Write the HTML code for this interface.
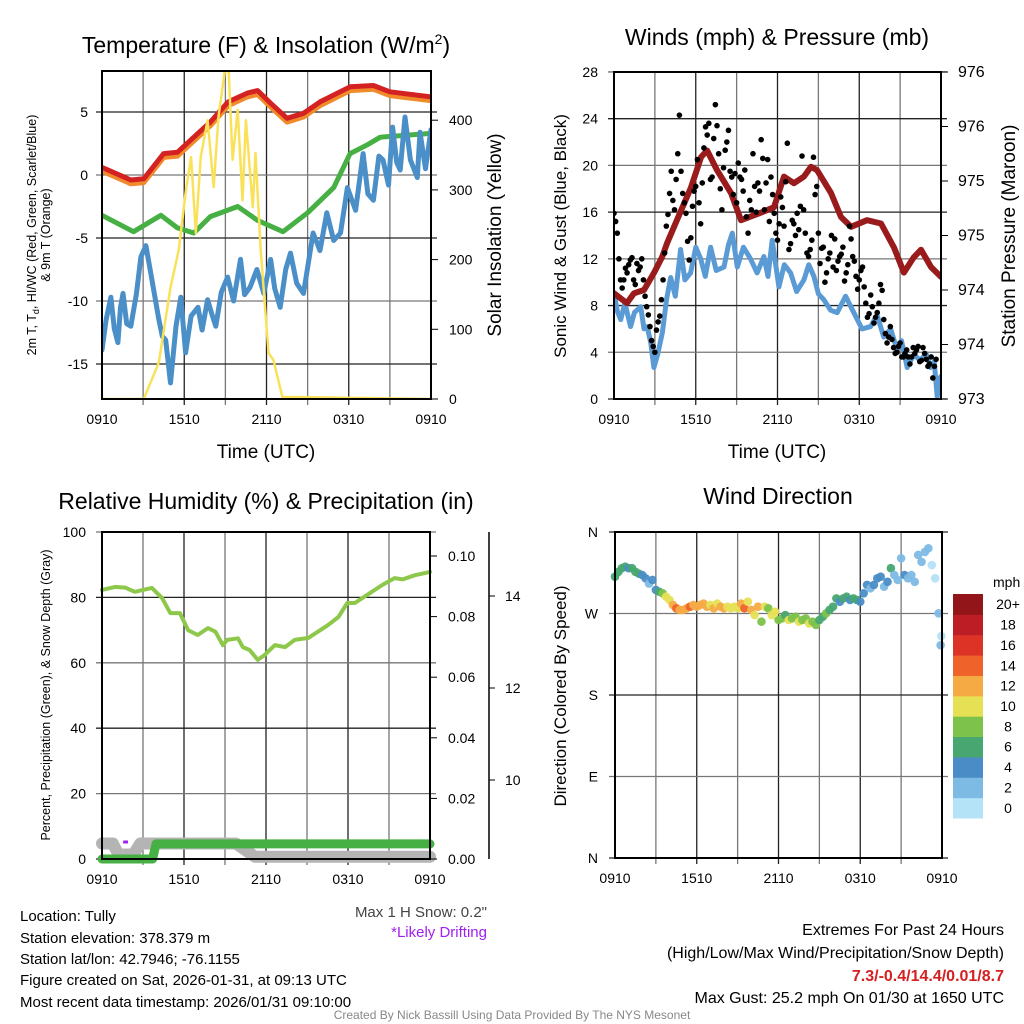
<!DOCTYPE html>
<html><head><meta charset="utf-8"><style>
html,body{margin:0;padding:0;background:#fff;}
svg{display:block;font-family:"Liberation Sans",Arial,sans-serif;}
</style></head><body>
<svg id="chart" xmlns="http://www.w3.org/2000/svg" width="1024" height="1024" viewBox="0 0 1024 1024">
<rect width="1024" height="1024" fill="#fff"/>
<defs>
<clipPath id="c1"><rect x="102" y="71" width="329" height="328"/></clipPath>
<clipPath id="c2"><rect x="614" y="72" width="327" height="327"/></clipPath>
<clipPath id="c3"><rect x="95" y="532" width="345" height="335"/></clipPath>
<clipPath id="c4"><rect x="605" y="525" width="345" height="340"/></clipPath>
</defs>
<g id="grid"></g>
<g id="series"></g>
<g id="axes"></g>

<text x="266" y="53" font-size="23" text-anchor="middle">Temperature (F) &amp; Insolation (W/m<tspan dy="-9" font-size="14">2</tspan><tspan dy="9">)</tspan></text>
<text x="777" y="45" font-size="23" text-anchor="middle">Winds (mph) &amp; Pressure (mb)</text>
<text x="266" y="509" font-size="23" text-anchor="middle">Relative Humidity (%) &amp; Precipitation (in)</text>
<text x="778" y="504" font-size="23" text-anchor="middle">Wind Direction</text>

<text transform="translate(36,235) rotate(-90)" font-size="12.5" text-anchor="middle">2m T, T<tspan font-size="9" dy="3">d</tspan><tspan dy="-3">, HI/WC (Red, Green, Scarlet/Blue)</tspan></text>
<text transform="translate(50,235) rotate(-90)" font-size="12.5" text-anchor="middle">&amp; 9m T (Orange)</text>
<text transform="translate(501,235) rotate(-90)" font-size="19" text-anchor="middle">Solar Insolation (Yellow)</text>
<text x="266" y="458" font-size="19" text-anchor="middle">Time (UTC)</text>
<text transform="translate(566,236) rotate(-90)" font-size="17" text-anchor="middle">Sonic Wind &amp; Gust (Blue, Black)</text>
<text transform="translate(1015,236) rotate(-90)" font-size="19" text-anchor="middle">Station Pressure (Maroon)</text>
<text x="777" y="458" font-size="19" text-anchor="middle">Time (UTC)</text>
<text transform="translate(50,695) rotate(-90)" font-size="12.5" text-anchor="middle">Percent, Precipitation (Green), &amp; Snow Depth (Gray)</text>
<text transform="translate(566,696) rotate(-90)" font-size="17" text-anchor="middle">Direction (Colored By Speed)</text>
<text x="993" y="587" font-size="14" text-anchor="start">mph</text>

<g font-size="15">
<text x="20" y="921">Location: Tully</text>
<text x="20" y="943">Station elevation: 378.379 m</text>
<text x="20" y="964">Station lat/lon: 42.7946; -76.1155</text>
<text x="20" y="985">Figure created on Sat, 2026-01-31, at 09:13 UTC</text>
<text x="20" y="1007">Most recent data timestamp: 2026/01/31 09:10:00</text>
</g>
<text x="487" y="917" font-size="15" fill="#444" text-anchor="end">Max 1 H Snow: 0.2"</text>
<text x="487" y="937" font-size="15" fill="#a020f0" text-anchor="end">*Likely Drifting</text>
<g font-size="16" text-anchor="end">
<text x="1004" y="935">Extremes For Past 24 Hours</text>
<text x="1004" y="958">(High/Low/Max Wind/Precipitation/Snow Depth)</text>
<text x="1004" y="981" fill="#d42020" font-weight="bold">7.3/-0.4/14.4/0.01/8.7</text>
<text x="1004" y="1003">Max Gust: 25.2 mph On 01/30 at 1650 UTC</text>
</g>
<text x="512" y="1019" font-size="12" fill="#888" text-anchor="middle">Created By Nick Bassill Using Data Provided By The NYS Mesonet</text>
</svg>
<script>
// ---- data ----
const timeLabels=["0910","1510","2110","0310","0910"];
const tempTicks=[5,0,-5,-10,-15];
const solarTicks=[0,100,200,300,400];
const windTicks=[0,4,8,12,16,20,24,28];
const presTicks=[973,973.5,974,974.5,975,975.5,976];
const rhTicks=[0,20,40,60,80,100];
const precipTicks=[0,0.02,0.04,0.06,0.08,0.10];
const snowTicks=[10,12,14];
const dirLabels=["N","E","S","W","N"];
const dirTicks=[0,90,180,270,360];

const tRed=[0,2.1,3.05,4.5,5.5,6.5,7.9,9.2,10.6,11.35,12.3,13.5,14.7,15.9,18.1,19.8,21,24];
const tempRed=[0.6,-0.4,-0.3,1.7,1.8,2.8,4.2,5.8,6.5,6.7,5.7,4.5,4.9,5.8,7.0,7.1,6.6,6.2];
const tempOrange=[0.3,-0.7,-0.6,1.4,1.5,2.5,3.9,5.5,6.2,6.4,5.4,4.2,4.6,5.5,6.7,6.8,6.3,5.9];
const tGreen=[0,2.3,4.3,5.5,6.7,7.9,9.9,11.35,13.2,15,16.9,18.1,19.35,20.3,24];
const hiwc=[-3.2,-4.5,-3.2,-4.2,-4.6,-3.3,-2.5,-3.6,-4.5,-3.0,-1.0,1.7,2.4,3.0,3.3];
const tDew=[0,0.3,0.65,0.9,1.16,1.35,1.53,1.8,2.1,2.5,2.84,3.2,3.56,4.15,4.4,4.65,5.0,5.4,5.75,6.1,6.5,7.0,7.3,7.7,8.0,8.3,8.7,9.16,9.6,10.1,10.4,10.8,11.3,11.8,12.3,12.6,13.0,13.4,13.75,14.2,14.7,15.4,15.9,16.4,16.9,17.4,17.9,18.5,19.05,19.4,19.8,20.2,20.5,20.9,21.2,21.5,21.75,22.1,22.5,23,23.2,23.6,24];
const dewpt=[-13.9,-11.5,-9.7,-12.2,-13.3,-10.5,-9.4,-11.8,-12,-9.5,-6.5,-5.6,-7.8,-11.5,-12.8,-13.1,-16.5,-12.0,-9.7,-14.1,-11.2,-10.5,-12.3,-9.9,-11.0,-12,-9.3,-8.1,-10.0,-6.7,-9.5,-8.9,-7.5,-9.4,-6.7,-9.0,-10.5,-7.5,-6.2,-8.6,-9.4,-4.6,-6.0,-3.0,-5.2,-4.6,-1.0,-2.8,1.7,-1.5,-2.0,1.5,1.2,-0.8,3.8,1.0,0.4,4.6,1.2,-0.2,3.4,0.5,3.6];
const tSolar=[0,3.05,4.15,5.0,5.6,6.1,6.5,6.84,7.2,7.7,8.15,8.5,8.95,9.24,9.53,9.9,10.25,10.5,11,11.2,11.56,11.93,12.15,12.5,13.16,24];
const solar=[0,0,53,160,214,296,347,238,347,400,304,405,470,470,343,415,285,400,275,353,218,123,66,56,3,0];

const tPres=[0,0.95,1.47,2.2,2.94,3.52,3.9,4.62,5.65,6.39,6.83,7.56,8.59,9.32,10.8,11.74,12.48,13.2,13.94,14.46,14.9,15.93,16.66,17.4,18.57,19.6,20.55,21.28,22.0,22.53,23.27,24];
const pressure=[973.97,973.88,973.97,974.0,974.16,974.30,974.43,974.64,974.94,975.22,975.28,975.10,974.89,974.64,974.71,974.76,975.04,974.98,975.04,975.13,975.10,974.89,974.67,974.58,974.64,974.61,974.39,974.16,974.30,974.37,974.21,974.12];
const tWind=[0,0.25,0.49,0.8,1.22,1.5,1.96,2.2,2.44,2.7,2.93,3.2,3.55,3.85,4.16,4.5,4.89,5.2,5.62,6.0,6.36,6.7,7.09,7.5,8.07,8.4,8.68,9.05,9.5,10.02,10.5,11.0,11.3,11.61,12.1,12.5,12.96,13.4,13.94,14.3,14.67,15.0,15.4,15.9,16.38,17.0,17.6,18.2,18.83,19.3,19.8,20.3,20.78,21.1,21.52,22.0,22.49,22.9,23.23,23.5,23.72,23.96];
const wind=[9.1,7.5,6.8,8.2,6.2,7.4,7.9,6.0,6.2,4.8,2.7,3.8,5.7,8.5,10.4,8.8,12.8,10.2,10.8,13.0,12,10.5,13,11.0,11.3,13.2,14.2,11.3,13.0,12,10.8,12.2,10.5,13.6,9.6,11.5,10.8,9.2,10.2,11.5,10.5,9.0,8.5,7.6,7.4,8.8,7.4,6.0,6.2,7.2,5.3,6.0,4.2,5.0,2.7,3.8,3.3,3.9,2.7,3.2,0.2,1.9];
const gustA=[15.9,14.2,10.2,10.2,10.8,11.9,10.2,11.6,11.3,10.2,7.9,6.2,4.5,5.9,7.1,10.2,14.8,17.6,17.0,18.8,24.3,17.6,15.9,11.9,16.5,18.2,16.8,18.5,23.3,23.6,19.0,25.2,21.0,16.2,21.3,23.0,19.0,19.3,20.2,18.8,19.6,14.2,16.2,18.2,18.5,22.2,16.2,20.5,19.0,15.9,13.6,17.3,14.8,21.9,13.3,15.0,15.9,16.5,16.2,12.5,12.8,20.7,18.2,11.6,13.0,10.8,12.5,11.3,11.0,12.2,13.0,10.8,14.8,12.2,10.5,10.2,11.3,8.2,7.3,7.9,7.0,8.2,9.3,5.6,5.3,5.1,3.9,4.5,3.6,3.9,3.6,3.6,3.9,4.5,3.3,3.9,2.8,3.6,2.8];
const gustB=[15.2,12.0,9.5,11.2,11.5,12.1,9.8,11.0,12.0,8.8,7.2,5.0,4.0,6.6,8.5,12.5,15.8,19.5,16.2,21.0,19.5,16.8,13.5,13.8,17.8,20.5,15.0,21.5,22.6,18.8,22.3,23.4,18.0,19.8,22.0,19.5,17.5,16.8,19.0,17.8,15.6,17.0,21.0,16.0,17.8,20.6,18.5,15.2,17.5,14.2,15.0,16.4,18.6,12.8,15.3,14.0,14.5,20.8,14.2,12.2,13.6,17.5,14.2,12.9,10.0,12.0,14.0,13.7,11.8,12.4,10.1,11.5,13.7,11.8,9.4,11.0,9.6,7.0,8.9,6.5,7.4,9.8,6.8,4.8,6.2,4.4,4.0,4.8,3.6,4.2,3.0,4.4,4.2,3.2,4.4,3.4,3.0,1.8,3.4];
const gustStep=0.24;

const tRH=[0,0.95,1.7,2.4,3.65,4.4,5.0,5.7,6.3,7.0,7.75,8.3,8.85,9.15,9.95,10.3,10.8,11.4,11.9,12.65,13.4,14.1,15.1,16.55,17.3,17.95,18.5,19.75,20.5,21.4,22.0,22.9,24];
const rh=[82.3,83.2,83.0,81.7,82.9,79.8,75.2,75.2,70,68.5,70.6,69.5,65.4,67,67.5,64.8,63.9,60.9,62.4,65.4,64.8,67,67.6,71.6,74,78.3,78.3,81.7,83.8,85.9,85.5,86.8,87.8];
const tPrecip=[0,3.7,3.95,24];
const precip=[0,0,0.005,0.005];
const tSnow=[0,0.8,1.2,2.3,2.8,9.8,11.2,24];
const snow=[8.62,8.62,8.38,8.38,8.62,8.62,8.33,8.33];

const tDir=[0,0.25,0.5,0.75,1,1.25,1.5,1.75,2,2.25,2.5,2.75,3,3.25,3.5,3.75,4,4.25,4.5,4.75,5,5.25,5.5,5.75,6,6.25,6.5,6.75,7,7.25,7.5,7.75,8,8.25,8.5,8.75,9,9.25,9.5,9.75,10,10.25,10.5,10.75,11,11.25,11.5,11.75,12,12.25,12.5,12.75,13,13.25,13.5,13.75,14,14.25,14.5,14.75,15,15.25,15.5,15.75,16,16.25,16.5,16.75,17,17.25,17.5,17.75,18,18.25,18.5,18.75,19,19.25,19.5,19.75,20,20.25,20.5,20.75,21,21.25,21.5,21.75,22,22.25,22.5,22.75,23,23.25,23.5,23.75,23.9,23.95];
const direction=[310.6,316,320,321.7,320,320,316,314,312.5,308.8,303,307,296,294,292.3,288.5,285,279.4,275.7,273.9,273.9,275.7,277.5,279.4,277.5,279.4,281,277.5,279.4,275.7,281,277.5,275.7,277.5,275.7,277.5,275.7,281,275.7,283,273.9,268.3,277.5,261,277.5,275.7,268.3,272,262.8,264.6,268.3,262.8,264.6,266.5,261,262.8,264.6,259,261,257.3,262.8,266.5,270.2,273.9,277.5,286.7,283,286.7,288.5,285,286.7,285,283,292.3,301.5,297.8,301.5,308.8,310.6,299.6,305,320,312.5,307,331,312.5,308.8,312.5,305,334.6,327,338,342,323.5,308.8,270.2,235,245];
const dirSpeed=[6,7,6,6,5,7,6,6,4,4,3,4,4,7,8,10,11,13,15,12,13,12,14,12,12,13,12,13,11,12,10,12,12,11,10,11,10,12,14,10,12,10,13,8,10,9,10,11,9,8,7,10,9,8,10,8,9,10,8,8,7,7,8,7,6,6,5,7,6,5,6,7,5,4,4,3,4,5,4,3,4,6,3,3,2,4,2,2,3,2,2,2,2,1,1,2,3,0,4,3];
const cbLabels=["0","2","4","6","8","10","12","14","16","18","20+"];
const cbColors=["#b4e2f6","#7dbbe5","#4a8dc6","#48a770","#7cc24b","#e6e055","#f6aa44","#ef6229","#dd3327","#bd1e25","#921519"];

// ---- scales ----
const NS="http://www.w3.org/2000/svg";
const x1=t=>102+t*329/24, yT=v=>175-12.6*v, yS=s=>399-0.697*s;
const x2=t=>614+t*327/24, yW=w=>399-11.68*w, yP=p=>399-(p-973)*109;
const x3=t=>102+t*328/24, yRH=v=>859-3.27*v, yPr=v=>859-3030*v, ySn=v=>780-(v-10)*46;
const x4=t=>615+t*327/24, yD=d=>858-d*0.9056;
function el(tag,attrs,parent){const e=document.createElementNS(NS,tag);for(const k in attrs)e.setAttribute(k,attrs[k]);parent.appendChild(e);return e;}
const G=document.getElementById('grid'),S=document.getElementById('series'),A=document.getElementById('axes');
function pathD(ts,vs,fx,fy){return ts.map((t,i)=>(i?'L':'M')+fx(t).toFixed(1)+','+fy(vs[i]).toFixed(1)).join('');}

// ---- panels: frames & grids ----
const panels=[
 {x0:102,x1:431,y0:71,y1:399,fx:x1,hy:tempTicks.map(yT),name:'temperature'},
 {x0:614,x1:941,y0:72,y1:399,fx:x2,hy:windTicks.map(yW),name:'wind'},
 {x0:102,x1:430,y0:532,y1:859,fx:x3,hy:rhTicks.map(yRH),name:'humidity'},
 {x0:615,x1:942,y0:532,y1:858,fx:x4,hy:dirTicks.map(yD),name:'direction'}];
panels.forEach(p=>{
 for(let h=3;h<24;h+=3){const gl=el('line',{x1:p.fx(h),x2:p.fx(h),y1:p.y0,y2:p.y1+6,stroke:h%6?'#777':'#222','stroke-width':1.3},G);
  
  }
 p.hy.forEach((y,i)=>{const gl=el('line',{x1:p.x0-6,x2:p.x1+6,y1:y,y2:y,stroke:i%2?'#777':'#222','stroke-width':1.3},G);
  
  });
 const fr=el('rect',{x:p.x0,y:p.y0,width:p.x1-p.x0,height:p.y1-p.y0,fill:'none',stroke:'#000','stroke-width':2},A);
 
 
 timeLabels.forEach((lab,i)=>{const tx=el('text',{x:p.fx(i*6),y:p.y1+25,'font-size':14,'text-anchor':'middle'},A);tx.textContent=lab;
  
  });
});
function label(x,y,txt,anchor,name,size){const t=el('text',{x:x,y:y+5,'font-size':size||14,'text-anchor':anchor},A);t.textContent=txt;
 
 }
tempTicks.forEach(v=>label(88,yT(v),String(v),'end','temp-y-tick-label'));
solarTicks.forEach(v=>{label(449,yS(v),String(v),'start','solar-y-tick-label');el('line',{x1:431,x2:438,y1:yS(v),y2:yS(v),stroke:'#000'},A);});
windTicks.forEach(v=>label(598,yW(v),String(v),'end','wind-y-tick-label'));
presTicks.forEach(v=>{label(958,yP(v),String(Math.round(v+0.01)),'start','pressure-y-tick-label',16);el('line',{x1:941,x2:948,y1:yP(v),y2:yP(v),stroke:'#000'},A);});
rhTicks.forEach(v=>label(86,yRH(v),String(v),'end','rh-y-tick-label'));
precipTicks.forEach(v=>{label(448,yPr(v),v.toFixed(2),'start','precip-y-tick-label');el('line',{x1:430,x2:437,y1:yPr(v),y2:yPr(v),stroke:'#000'},A);});
el('line',{x1:489,x2:489,y1:532,y2:859,stroke:'#000','stroke-width':1.5},A);
snowTicks.forEach(v=>{label(505,ySn(v),String(v),'start','snow-y-tick-label');el('line',{x1:489,x2:495,y1:ySn(v),y2:ySn(v),stroke:'#000'},A);});
dirTicks.forEach((v,i)=>label(598,yD(v),dirLabels[i],'end','direction-y-tick-label'));

// ---- panel 1 series ----
const g1=el('g',{'clip-path':'url(#c1)'},S);
function line(g,ts,vs,fx,fy,color,w,name){const p=el('path',{d:pathD(ts,vs,fx,fy),fill:'none',stroke:color,'stroke-width':w,'stroke-linejoin':'round','stroke-linecap':'round'},g);
 
 return p;}
line(g1,tGreen,hiwc,x1,yT,'#46b044',5,'heat-index-windchill-line');
line(g1,tDew,dewpt,x1,yT,'#4a8fc8',5,'dewpoint-line');
line(g1,tRed,tempOrange,x1,yT,'#f08a2a',5,'temp-9m-line');
line(g1,tRed,tempRed,x1,yT,'#d42222',5,'temp-2m-line');
line(g1,tSolar,solar,x1,yS,'#f9e25a',2.5,'solar-insolation-line');

// ---- panel 2 series ----
const g2=el('g',{'clip-path':'url(#c2)'},S);
line(g2,tWind,wind,x2,yW,'#5b9bd5',5,'sonic-wind-line');
line(g2,tPres,pressure,x2,yP,'#9a1b1b',6,'station-pressure-line');
gustA.forEach((v,i)=>{const c=el('circle',{cx:x2(i*gustStep),cy:yW(v),r:2.8,fill:'#000'},g2);
 
 });
gustB.forEach((v,i)=>{const c=el('circle',{cx:x2(i*gustStep+gustStep/2),cy:yW(v),r:2.8,fill:'#000'},g2);
 
 });

// ---- panel 3 series ----
const g3=el('g',{'clip-path':'url(#c3)'},S);
line(g3,tSnow,snow,x3,ySn,'#b4b4b4',12,'snow-depth-line');
line(g3,tPrecip,precip,x3,yPr,'#46b044',9,'precipitation-line');
line(g3,tRH,rh,x3,yRH,'#8dc84a',4,'relative-humidity-line');
const dr=el('line',{x1:x3(1.55),x2:x3(1.9),y1:842,y2:842,stroke:'#a020f0','stroke-width':3},g3);



// ---- panel 4 series ----
const g4=el('g',{'clip-path':'url(#c4)'},S);
direction.forEach((d,i)=>{const bin=Math.min(10,Math.floor(dirSpeed[i]/2));
 const c=el('circle',{cx:x4(tDir[i]),cy:yD(d),r:4.3,fill:cbColors[bin],'fill-opacity':0.95},g4);
 
 });

// ---- colorbar ----
const cbH=224/11;
cbColors.forEach((c,i)=>{const y=818-(i+1)*cbH;
 const r=el('rect',{x:953,y:y,width:30,height:cbH+0.5,fill:c},A);
 
 
 label(1008,y+cbH/2,cbLabels[i],'middle','colorbar-label');});
</script>
</body></html>
